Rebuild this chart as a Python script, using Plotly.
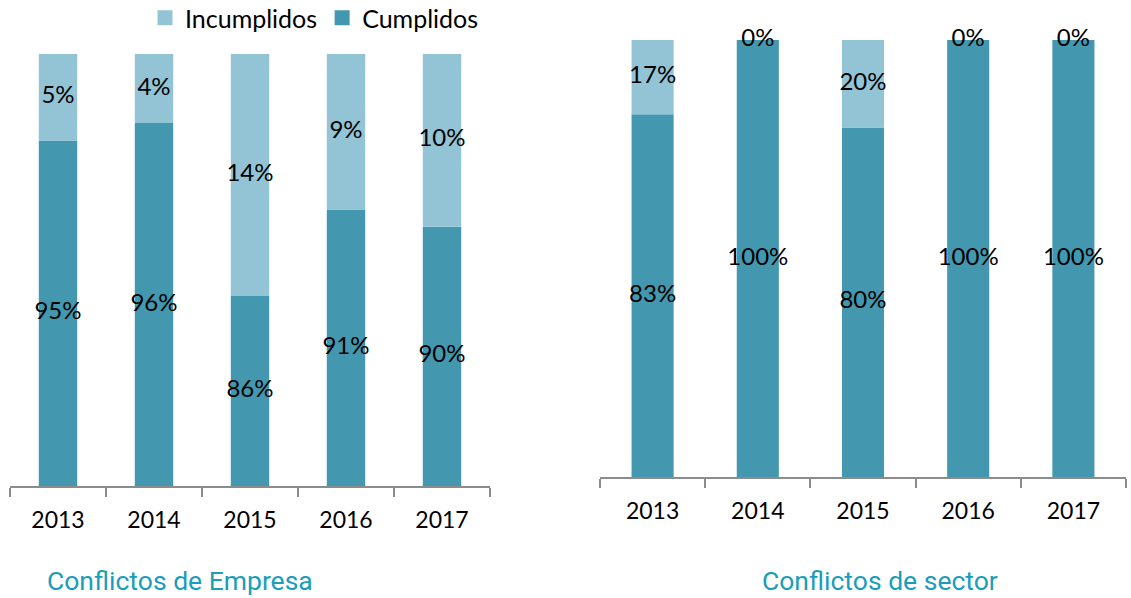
import plotly.graph_objects as go

years = ["2013", "2014", "2015", "2016", "2017"]
emp_cumplidos = [95, 96, 86, 91, 90]
emp_incumplidos = [5, 4, 14, 9, 10]
sec_cumplidos = [83, 100, 80, 100, 100]
sec_incumplidos = [17, 0, 20, 0, 0]
emp_floor = 75  # left axis starts here

C_CUMP = "#4398AF"
C_INC = "#93C4D6"
FONT = "Lato, 'Open Sans', sans-serif"

fig = go.Figure()

def add_panel(cump, inc, floor, xa, ya):
    fig.add_trace(go.Bar(x=years, y=[c - floor for c in cump], base=[floor] * len(cump),
                         marker=dict(color=C_CUMP, line=dict(width=0)), name="Cumplidos",
                         showlegend=False, xaxis=xa, yaxis=ya))
    fig.add_trace(go.Bar(x=years, y=inc, base=cump,
                         marker=dict(color=C_INC, line=dict(width=0)), name="Incumplidos",
                         showlegend=False, xaxis=xa, yaxis=ya))
    lx = years + years
    ly = [(floor + c) / 2 for c in cump] + [c + i / 2 for c, i in zip(cump, inc)]
    lt = [f"{c}%" for c in cump] + [f"{i}%" for i in inc]
    fig.add_trace(go.Scatter(x=lx, y=ly, text=lt, mode="text", showlegend=False,
                             textfont=dict(family=FONT, size=24, color="black"), cliponaxis=False,
                             hoverinfo="skip", xaxis=xa, yaxis=ya))

add_panel(emp_cumplidos, emp_incumplidos, emp_floor, "x", "y")
add_panel(sec_cumplidos, sec_incumplidos, 0, "x2", "y2")

# legend entries (square swatches)
for nm, col in [("Incumplidos", C_INC), ("Cumplidos", C_CUMP)]:
    fig.add_trace(go.Scatter(x=[None], y=[None], mode="markers", name=nm,
                             marker=dict(symbol="square", size=15, color=col),
                             showlegend=True, xaxis="x", yaxis="y"))

W, H = 1131, 598
xax = dict(showline=True, linecolor="#8c8c8c", linewidth=2, ticks="outside", tickson="boundaries",
           ticklen=9, tickwidth=2, tickcolor="#8c8c8c", showgrid=False, zeroline=False,
           tickfont=dict(family=FONT, size=23, color="black"), ticklabelstandoff=12, fixedrange=True)

fig.update_layout(
    width=W, height=H,
    margin=dict(l=0, r=0, t=0, b=0, autoexpand=False),
    paper_bgcolor="white", plot_bgcolor="white",
    barmode="overlay", bargap=0.6,
    showlegend=True,
    legend=dict(orientation="h", x=145 / W, xanchor="left", y=1.0 + 5 / H, yanchor="top",
                font=dict(family=FONT, size=25, color="black"), itemwidth=30,
                bgcolor="rgba(0,0,0,0)", tracegroupgap=0),
    xaxis=dict(domain=[10 / W, 490 / W], anchor="y", **xax),
    yaxis=dict(domain=[1 - 486 / H, 1 - 54 / H], range=[emp_floor, 100], visible=False, anchor="x"),
    xaxis2=dict(domain=[600 / W, 1126 / W], anchor="y2", **xax),
    yaxis2=dict(domain=[1 - 477 / H, 1 - 40 / H], range=[0, 100], visible=False, anchor="x2"),
    annotations=[
        dict(text="Conflictos de Empresa", x=180 / W, y=1 - 580 / H, xref="paper", yref="paper",
             xanchor="center", yanchor="middle",
             showarrow=False, font=dict(family="Roboto", size=26.5, color="#1A9DBA")),
        dict(text="Conflictos de sector", x=880 / W, y=1 - 580 / H, xref="paper", yref="paper",
             xanchor="center", yanchor="middle",
             showarrow=False, font=dict(family="Roboto", size=26.5, color="#1A9DBA")),
    ],
)

fig.write_html("out.html", config={"displayModeBar": False},
               post_script="document.body.style.margin='0';")
